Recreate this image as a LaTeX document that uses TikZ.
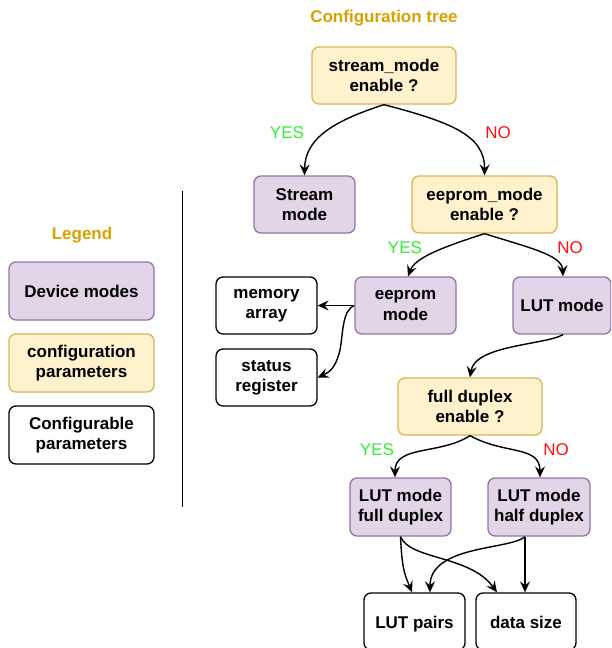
\documentclass[tikz,border=0pt]{standalone}
\usepackage{fontspec}
\setmainfont{Liberation Sans}
\usetikzlibrary{arrows.meta}
\definecolor{yfill}{HTML}{FFF2CC}
\definecolor{ydraw}{HTML}{D6B656}
\definecolor{pfill}{HTML}{E1D5E7}
\definecolor{pdraw}{HTML}{9673A6}
\definecolor{titlec}{HTML}{D9A100}
\definecolor{yesc}{HTML}{33EE33}
\definecolor{noc}{HTML}{FF1010}
\tikzset{
  box/.style={rounded corners=7pt, line width=1.3pt, align=center,
    font=\fontsize{17}{20.4}\selectfont\bfseries, inner sep=0pt},
  modebox/.style={box, fill=pfill, draw=pdraw},
  cfgbox/.style={box, fill=yfill, draw=ydraw},
  parbox/.style={box, fill=white, draw=black},
  arr/.style={-{Stealth[length=11pt,width=10pt,inset=4pt]}, line width=1.4pt},
  yeslbl/.style={text=yesc, font=\fontsize{17}{20}\selectfont, inner sep=0pt},
  nolbl/.style={text=noc, font=\fontsize{17}{20}\selectfont, inner sep=0pt},
  ttl/.style={text=titlec, font=\fontsize{17}{20}\selectfont\bfseries, inner sep=0pt}
}
\begin{document}
\begin{tikzpicture}[x=1pt,y=1pt]
\path[use as bounding box] (0,0) rectangle (611,-648);
\clip (0,0) rectangle (611,-648);
\fill[white] (0,0) rectangle (611,-648);

% titles
\node[ttl] (ttree) at (384,-18) {Configuration tree};
\node[ttl] (tleg) at (82,-235) {Legend};

% legend
\node[modebox, minimum width=145, minimum height=58] (lg1) at (81.5,-291) {Device modes};
\node[cfgbox, minimum width=145, minimum height=58] (lg2) at (81.5,-363) {configuration\\parameters};
\node[parbox, minimum width=145, minimum height=58] (lg3) at (81.5,-435) {Configurable\\parameters};

% separator
\coordinate (s1) at (182.5,-191);
\coordinate (s2) at (182.5,-507);
\draw[line width=1.3pt] (s1) -- (s2);

% tree nodes
\node[cfgbox, minimum width=144, minimum height=57] (stm) at (384,-75.5) {stream\_mode\\enable ?};
\node[modebox, minimum width=101, minimum height=57] (strm) at (304.5,-204.5) {Stream\\mode};
\node[cfgbox, minimum width=145, minimum height=57] (eem) at (484.5,-204.5) {eeprom\_mode\\enable ?};
\node[modebox, minimum width=101, minimum height=57] (eep) at (405.5,-305.5) {eeprom\\mode};
\node[modebox, minimum width=98, minimum height=57] (lut) at (562,-305.5) {LUT mode};
\node[parbox, minimum width=101, minimum height=57] (mem) at (266.5,-305.5) {memory\\array};
\node[parbox, minimum width=101, minimum height=57] (stat) at (266.5,-377.5) {status\\register};
\node[cfgbox, minimum width=144, minimum height=57] (fdx) at (470,-406.5) {full duplex\\enable ?};
\node[modebox, minimum width=101, minimum height=58] (lfd) at (400.5,-507) {LUT mode\\full duplex};
\node[modebox, minimum width=102, minimum height=58] (lhd) at (539,-507) {LUT mode\\half duplex};
\node[parbox, minimum width=101, minimum height=57, text height=13pt, text depth=0pt] (pairs) at (414.5,-621.5) {LUT pairs};
\node[parbox, minimum width=100, minimum height=57, text height=13pt, text depth=0pt] (dsize) at (526,-621.5) {data size};

% labels
\node[yeslbl] (y1) at (287,-133) {YES};
\node[nolbl] (n1) at (498,-133) {NO};
\node[yeslbl] (y2) at (405,-248) {YES};
\node[nolbl] (n2) at (570,-248) {NO};
\node[yeslbl] (y3) at (377,-450) {YES};
\node[nolbl] (n3) at (556,-450) {NO};

% connectors
\draw[arr] (stm.south) .. controls (330,-122) and (305,-140) .. (strm.north);
\draw[arr] (stm.south) .. controls (450,-122) and (485,-135) .. (eem.north);
\draw[arr] (eem.south) .. controls (440,-248) and (415,-258) .. ([xshift=2.5pt]eep.north);
\draw[arr] (eem.south) .. controls (530,-248) and (562,-255) .. ([xshift=1pt]lut.north);
\draw[arr] (eep.west) -- (mem.east);
\draw[arr] (eep.west) .. controls (342,-310) and (343,-335) .. (340,-350) .. controls (336,-367) and (330,-372) .. (stat.east);
\draw[arr] ([xshift=1pt]lut.south) .. controls (545,-345) and (475,-345) .. (fdx.north);
\draw[arr] (fdx.south) .. controls (440,-455) and (395,-445) .. ([xshift=-5.5pt]lfd.north);
\draw[arr] (fdx.south) .. controls (505,-455) and (540,-445) .. ([xshift=1pt]lhd.north);
\draw[arr] (lfd.south) .. controls (402,-570) and (405,-575) .. ([xshift=-2.5pt]pairs.north);
\draw[arr] (lfd.south) .. controls (410,-560) and (470,-555) .. ([xshift=-29pt]dsize.north);
\draw[arr] ([xshift=-14pt]lhd.south) .. controls (510,-550) and (430,-545) .. ([xshift=15.5pt]pairs.north);
\draw[arr] ([xshift=-14pt]lhd.south) -- ([xshift=-14pt]lhd.south |- dsize.north);
\end{tikzpicture}
\end{document}
